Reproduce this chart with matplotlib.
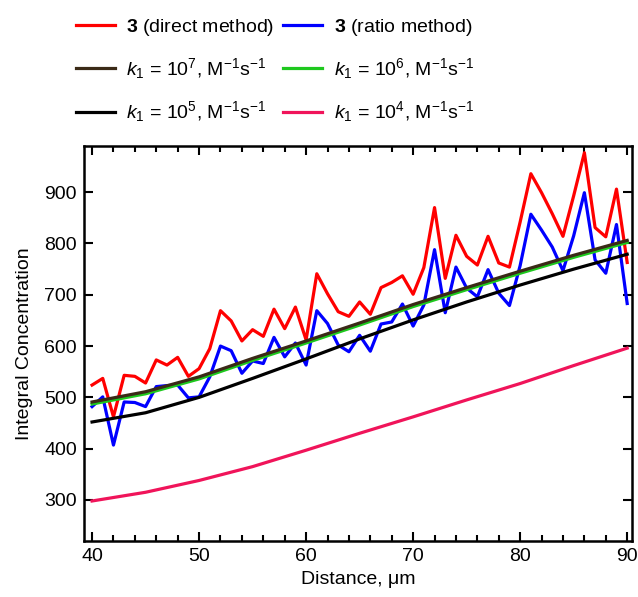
import matplotlib
matplotlib.use('Agg')
import matplotlib.pyplot as plt
from matplotlib.ticker import MultipleLocator

plt.rcParams['font.family'] = ['Liberation Sans', 'DejaVu Sans']
plt.rcParams['mathtext.fontset'] = 'custom'
plt.rcParams['mathtext.rm'] = 'Liberation Sans'
plt.rcParams['mathtext.it'] = 'Liberation Sans:italic'
plt.rcParams['mathtext.bf'] = 'Liberation Sans:bold'

# Измерения (шаг 1 мкм)
distance = list(range(40, 91))
direct = [524, 537, 462, 543, 541, 528, 573, 563, 578, 541,
          556, 595, 669, 649, 610, 632, 619, 672, 634, 676,
          612, 741, 702, 667, 658, 686, 662, 714, 724, 737,
          701, 753, 870, 732, 816, 775, 758, 814, 762, 754,
          842, 936, 899, 858, 814, 893, 977, 831, 813, 906, 763]
ratio = [482, 501, 407, 491, 490, 482, 521, 523, 524, 499,
         501, 540, 600, 591, 547, 571, 566, 617, 579, 606,
         563, 669, 644, 602, 589, 621, 590, 643, 647, 682,
         639, 680, 788, 665, 754, 713, 696, 749, 703, 679,
         757, 857, 826, 793, 747, 815, 899, 768, 742, 837, 683]

# Модельные кривые (шаг 5 мкм)
model_x = [40, 45, 50, 55, 60, 65, 70, 75, 80, 85, 90]
k1e7 = [491, 511, 540, 576, 610, 645, 681, 714, 746, 777, 806]
k1e6 = [487, 507, 536, 572, 606, 641, 677, 710, 742, 773, 802]
k1e5 = [452, 470, 500, 537, 575, 614, 651, 686, 719, 750, 779]
k1e4 = [298, 315, 338, 365, 397, 430, 462, 495, 527, 562, 596]

fig = plt.figure(figsize=(6.38, 5.97), dpi=100)
ax = fig.add_axes([0.1317, 0.0938, 0.8589, 0.6616])

lw = 2.3
l_red, = ax.plot(distance, direct, color='#ff0000', lw=lw)
l_blue, = ax.plot(distance, ratio, color='#0000ff', lw=lw)
l_green, = ax.plot(model_x, k1e6, color='#1ec81e', lw=lw)
l_brown, = ax.plot(model_x, k1e7, color='#3b2a17', lw=lw)
l_black, = ax.plot(model_x, k1e5, color='black', lw=lw)
l_pink, = ax.plot(model_x, k1e4, color='#f0145a', lw=lw)

ax.set_xlim(39.25, 90.45)
ax.set_ylim(220, 990)
ax.xaxis.set_major_locator(MultipleLocator(10))
ax.xaxis.set_minor_locator(MultipleLocator(2))
ax.set_yticks(range(300, 1000, 100))
ax.tick_params(which='both', direction='in', top=True, right=True,
               labelsize=14, width=1.5, pad=5)
ax.tick_params(which='major', length=6.5)
ax.tick_params(which='minor', length=4)
for s in ax.spines.values():
    s.set_linewidth(1.8)

ax.set_xlabel('Distance, \u03bcm', fontsize=14, labelpad=4)
ax.set_ylabel('Integral Concentration', fontsize=14, labelpad=8)

handles = [l_red, l_brown, l_black, l_blue, l_green, l_pink]
labels = [r'$\mathbf{3}$ (direct method)',
          r'$\mathit{k}_\mathit{1}$ = 10$^{7}$, M$^{-1}$s$^{-1}$',
          r'$\mathit{k}_\mathit{1}$ = 10$^{5}$, M$^{-1}$s$^{-1}$',
          r'$\mathbf{3}$ (ratio method)',
          r'$\mathit{k}_\mathit{1}$ = 10$^{6}$, M$^{-1}$s$^{-1}$',
          r'$\mathit{k}_\mathit{1}$ = 10$^{4}$, M$^{-1}$s$^{-1}$']
fig.legend(handles, labels, ncol=2, loc='upper left',
           bbox_to_anchor=(0.119, 0.972), frameon=False, fontsize=14,
           borderpad=0, borderaxespad=0, handlelength=2.0,
           handletextpad=0.6, columnspacing=0.45, labelspacing=0.95)

fig.savefig('out.png', dpi=100)
